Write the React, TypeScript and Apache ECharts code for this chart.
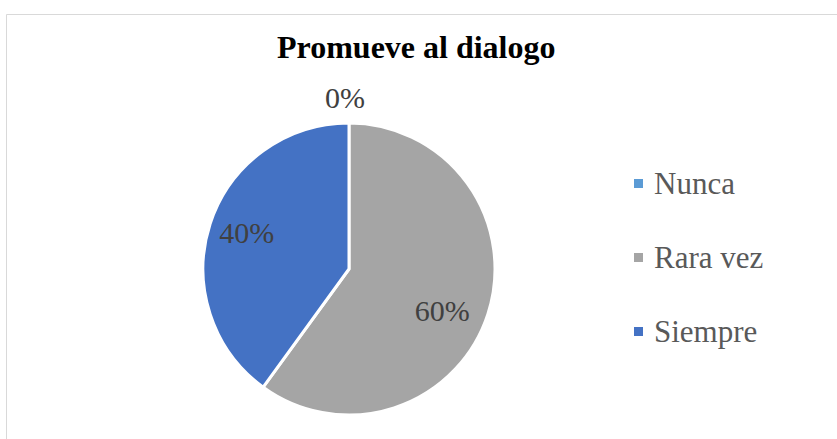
import React, { useEffect, useRef } from "react";
import * as echarts from "echarts";

const TITLE = "Promueve al dialogo";
const categories = ["Nunca", "Rara vez", "Siempre"];
const values = [0, 60, 40];
const colors = ["#5B9BD5", "#A5A5A5", "#4472C4"];
const labelOffsets: [number, number][] = [[-4, -96], [21, 18], [-30, -13]];

export default function App() {
  const ref = useRef<HTMLDivElement>(null);
  useEffect(() => {
    if (!ref.current) return;
    const chart = echarts.init(ref.current, null, { renderer: "svg" });
    const font = "Liberation Serif";
    chart.setOption({
      animation: false,
      backgroundColor: "#ffffff",
      textStyle: { fontFamily: font },
      title: {
        text: TITLE,
        left: 277,
        top: 31,
        padding: 0,
        textStyle: { fontFamily: font, fontSize: 32, fontWeight: "bold", color: "#000000" },
      },
      graphic: [
        {
          type: "rect",
          shape: { x: 6.5, y: 14.5, width: 860, height: 460 },
          style: { fill: "none", stroke: "#d9d9d9", lineWidth: 1 },
          silent: true,
        },
      ],
      legend: {
        orient: "vertical",
        left: 632,
        top: 168,
        padding: 0,
        itemWidth: 11,
        itemHeight: 11,
        itemGap: 43,
        icon: "rect",
        data: categories,
        textStyle: {
          fontFamily: font,
          fontSize: 31,
          lineHeight: 30,
          color: "#595959",
          padding: [0, 0, 0, 5],
        },
      },
      series: [
        {
          type: "pie",
          center: [349, 269],
          radius: [0, 146],
          startAngle: 90,
          clockwise: true,
          avoidLabelOverlap: false,
          label: {
            show: true,
            position: "inside",
            formatter: "{d}%",
            fontFamily: font,
            fontSize: 30,
            color: "#404040",
          },
          labelLine: { show: false },
          itemStyle: { borderColor: "#ffffff", borderWidth: 3 },
          data: categories.map((name, i) => ({
            name,
            value: values[i],
            itemStyle: { color: colors[i] },
            label: { offset: labelOffsets[i] },
          })),
        },
      ],
    });
    return () => chart.dispose();
  }, []);
  return (
    <div
      ref={ref}
      style={{ position: "absolute", left: 0, top: 0, width: 837, height: 439 }}
    />
  );
}
